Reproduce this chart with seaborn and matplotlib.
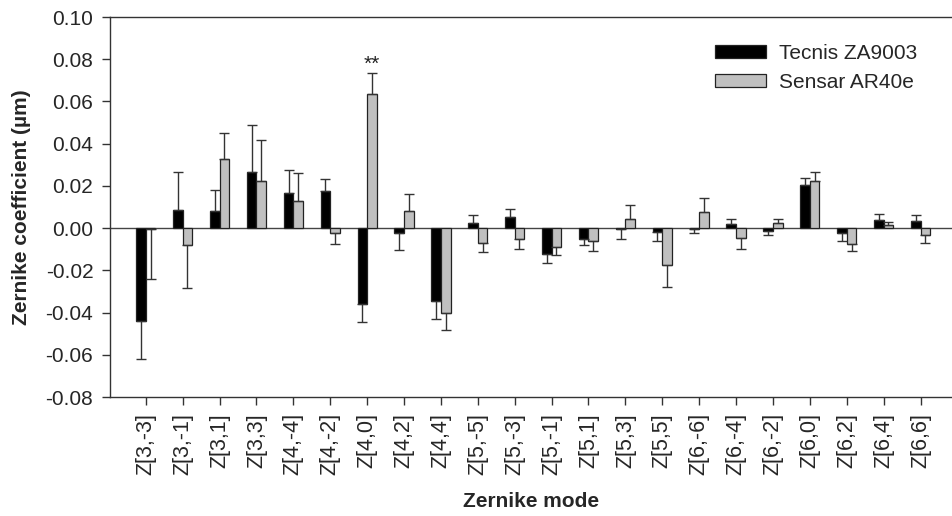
import numpy as np
import pandas as pd
import seaborn as sns
import matplotlib.pyplot as plt
from matplotlib.ticker import FormatStrFormatter

# Zernike modes on the x axis
modes = ['Z[3,-3]', 'Z[3,-1]', 'Z[3,1]', 'Z[3,3]', 'Z[4,-4]', 'Z[4,-2]', 'Z[4,0]',
         'Z[4,2]', 'Z[4,4]', 'Z[5,-5]', 'Z[5,-3]', 'Z[5,-1]', 'Z[5,1]', 'Z[5,3]',
         'Z[5,5]', 'Z[6,-6]', 'Z[6,-4]', 'Z[6,-2]', 'Z[6,0]', 'Z[6,2]', 'Z[6,4]', 'Z[6,6]']
lenses = ['Tecnis ZA9003', 'Sensar AR40e']

# mean coefficients (um) and one-sided error bars
tecnis = [-0.0438, 0.0086, 0.0083, 0.0267, 0.0167, 0.0177, -0.0359, -0.0022, -0.0347,
          0.0025, 0.0055, -0.0123, -0.0052, -0.0006, -0.0016, -0.0002, 0.0019, -0.0013,
          0.0202, -0.0025, 0.0039, 0.0034]
tecnis_err = [0.018, 0.018, 0.0098, 0.022, 0.011, 0.0055, 0.0086, 0.008, 0.0083,
              0.0036, 0.0036, 0.0044, 0.0026, 0.0044, 0.0047, 0.0023, 0.0025, 0.0019,
              0.0034, 0.0036, 0.0027, 0.0027]
sensar = [-0.0005, -0.0078, 0.0328, 0.0222, 0.0127, -0.0025, 0.0636, 0.0081, -0.0400,
          -0.0070, -0.0050, -0.0091, -0.0063, 0.0045, -0.0173, 0.0075, -0.0045, 0.0025,
          0.0222, -0.0077, 0.0014, -0.0031]
sensar_err = [0.0234, 0.0205, 0.0125, 0.0197, 0.0136, 0.0052, 0.0098, 0.0081, 0.0081,
              0.0042, 0.0047, 0.0037, 0.0044, 0.0066, 0.0106, 0.007, 0.0052, 0.002,
              0.0045, 0.0031, 0.0016, 0.0041]

# significance marker
sig_mode = 'Z[4,0]'
sig_text = '**'

df = pd.DataFrame({
    'mode': modes * 2,
    'lens': [lenses[0]] * len(modes) + [lenses[1]] * len(modes),
    'value': tecnis + sensar,
})

sns.set_style('white')
plt.rcParams['font.family'] = ['Liberation Sans', 'DejaVu Sans']

fig = plt.figure(figsize=(9.53, 5.16), dpi=100)
ax = fig.add_axes([0.1154, 0.2306, 0.8846, 0.7364])

ax.axhline(0, color='#444444', lw=1, zorder=1)

sns.barplot(data=df, x='mode', y='value', hue='lens', order=modes, hue_order=lenses,
            palette=['black', '#c0c0c0'], width=0.52, edgecolor='#222222', linewidth=0.9,
            errorbar=None, ax=ax, zorder=2)

# one-sided error bars, pointing away from zero
for cont, vals, errs in zip(ax.containers, [tecnis, sensar], [tecnis_err, sensar_err]):
    xs = [p.get_x() + p.get_width() / 2 for p in cont.patches]
    vals = np.array(vals)
    errs = np.array(errs)
    lower = np.where(vals < 0, errs, 0)
    upper = np.where(vals >= 0, errs, 0)
    ax.errorbar(xs, vals, yerr=[lower, upper], fmt='none', ecolor='#333333',
                elinewidth=1, capsize=3.6, capthick=1, zorder=3)

i = modes.index(sig_mode)
p = ax.containers[1].patches[i]
ax.text(p.get_x() + p.get_width() / 2, sensar[i] + sensar_err[i] + 0.0014, sig_text,
        ha='center', va='baseline', fontsize=15, color='#222222')

ax.set_xlim(-0.97, 21.88)
ax.set_ylim(-0.08, 0.10)
ax.set_yticks(np.arange(-0.08, 0.101, 0.02))
ax.yaxis.set_major_formatter(FormatStrFormatter('%.2f'))

for s in ['left', 'bottom', 'top']:
    ax.spines[s].set_color('#333333')
    ax.spines[s].set_linewidth(1)
ax.spines['right'].set_visible(False)

ax.tick_params(axis='y', direction='out', length=6, width=1, color='#333333',
               labelsize=15, pad=6, left=True)
ax.tick_params(axis='x', direction='out', length=5.5, width=1, color='#333333',
               labelsize=15.5, pad=6, bottom=True, labelrotation=90)

ax.set_ylabel('Zernike coefficient (µm)', fontsize=15, fontweight='bold')
ax.yaxis.set_label_coords(-0.094, 0.5)
ax.set_xlabel('Zernike mode', fontsize=15, fontweight='bold')
ax.xaxis.set_label_coords(0.5, -0.25)

handles, labels = ax.get_legend_handles_labels()
ax.legend(handles, labels, loc='upper left', bbox_to_anchor=(0.7177, 0.930),
          frameon=False, fontsize=15, borderpad=0, borderaxespad=0,
          handlelength=2.45, handleheight=0.55, handletextpad=0.62, labelspacing=0.5)

fig.savefig('out.png', dpi=100)
